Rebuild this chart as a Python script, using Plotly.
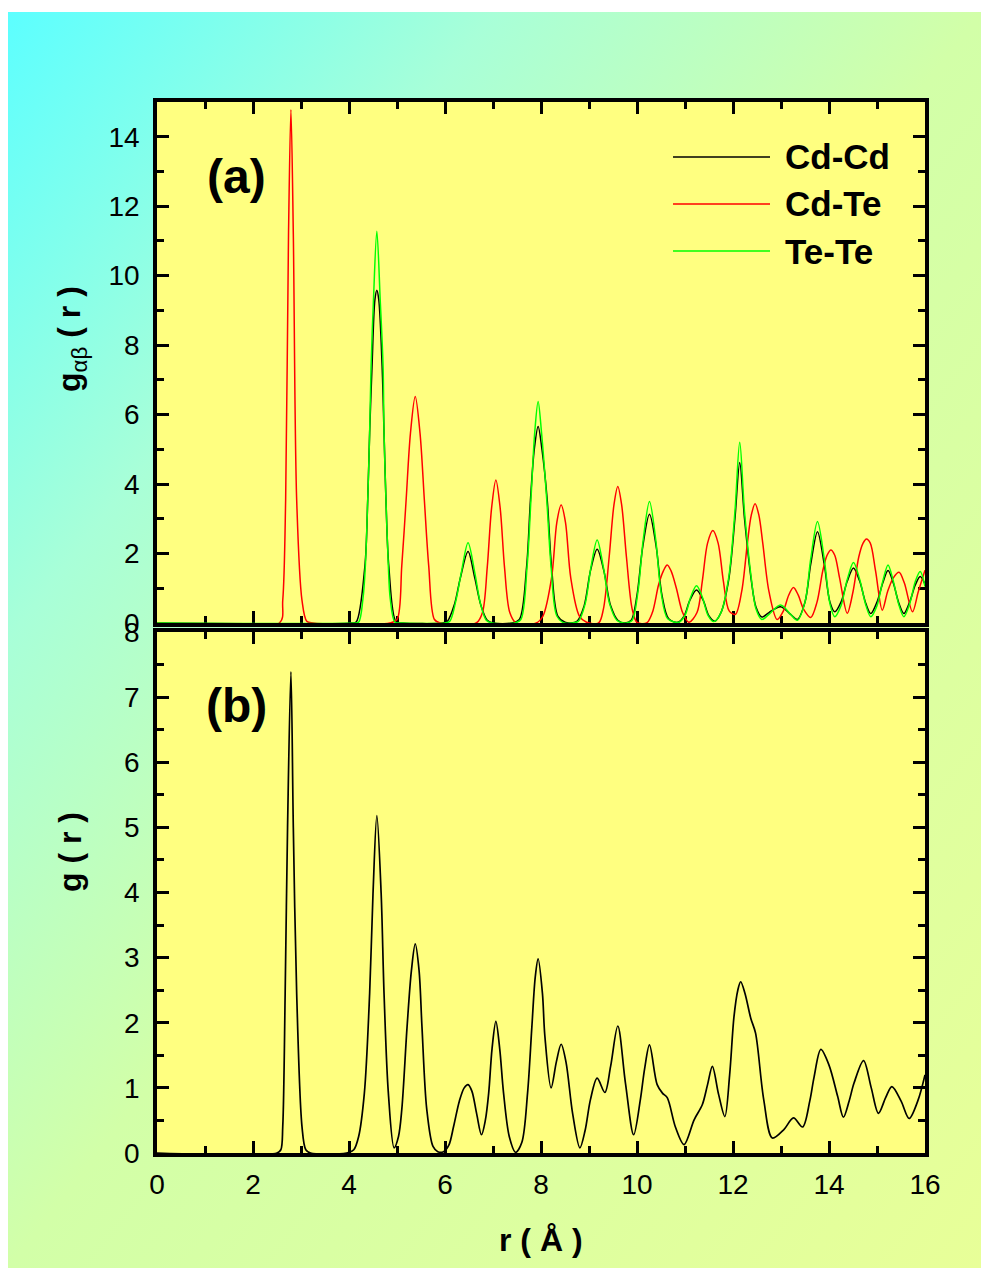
import base64
import plotly.graph_objects as go

# ---------------- data ----------------
# Panel (a): partial pair distribution functions
r_cdcd = [0, 4.05, 4.15, 4.33, 4.39, 4.43, 4.48, 4.54, 4.58, 4.62, 4.69, 4.73, 4.77, 4.83, 4.98, 5.10,
          5.95, 6.05, 6.20, 6.32, 6.48, 6.62, 6.75, 6.88, 7.00,
          7.40, 7.55, 7.70, 7.78, 7.86, 7.94, 8.02, 8.13, 8.22, 8.35, 8.50,
          8.62, 8.75, 8.90, 9.03, 9.17, 9.31, 9.45, 9.60, 9.75,
          9.88, 10.00, 10.12, 10.26, 10.40, 10.52, 10.66, 10.85,
          10.98, 11.10, 11.24, 11.38, 11.50, 11.62,
          11.75, 11.91, 12.04, 12.14, 12.24, 12.38, 12.48, 12.60,
          12.75, 12.99, 13.20, 13.34,
          13.50, 13.62, 13.76, 13.90, 14.02, 14.12,
          14.25, 14.38, 14.51, 14.64, 14.77, 14.87,
          15.00, 15.12, 15.23, 15.34, 15.46, 15.56,
          15.68, 15.80, 15.90, 16.00]
g_cdcd = [0, 0, 0.03, 1.62, 3.54, 5.47, 7.39, 9.31, 9.58, 9.31, 7.39, 5.47, 3.54, 1.62, 0.03, 0,
          0, 0.05, 0.55, 1.30, 2.06, 1.30, 0.50, 0.08, 0,
          0, 0.10, 1.62, 3.54, 5.00, 5.66, 5.00, 3.54, 1.62, 0.20, 0.02,
          0, 0.05, 0.50, 1.50, 2.12, 1.50, 0.50, 0.08, 0,
          0.08, 0.80, 2.20, 3.13, 2.20, 0.80, 0.12, 0.02,
          0.20, 0.65, 0.95, 0.65, 0.20, 0.05,
          0.30, 1.24, 3.00, 4.62, 3.00, 1.24, 0.45, 0.17,
          0.30, 0.47, 0.25, 0.10,
          0.60, 1.70, 2.63, 1.70, 0.60, 0.32,
          0.60, 1.20, 1.58, 1.20, 0.55, 0.27,
          0.60, 1.15, 1.51, 1.15, 0.55, 0.27,
          0.60, 1.10, 1.34, 1.12]

r_cdte = [0, 2.55, 2.62, 2.68, 2.74, 2.79, 2.84, 2.91, 3.02, 3.12, 3.25,
          4.85, 5.00, 5.10, 5.19, 5.28, 5.38, 5.48, 5.57, 5.66, 5.78, 5.90,
          6.65, 6.78, 6.88, 6.97, 7.06, 7.15, 7.24, 7.35, 7.48,
          7.90, 8.04, 8.22, 8.33, 8.42, 8.51, 8.62, 8.80, 8.95,
          9.20, 9.30, 9.42, 9.52, 9.60, 9.68, 9.78, 9.90, 10.00,
          10.20, 10.32, 10.45, 10.55, 10.63, 10.71, 10.82, 10.95, 11.08,
          11.25, 11.36, 11.47, 11.58, 11.69, 11.80, 11.92,
          12.05, 12.18, 12.30, 12.38, 12.46, 12.54, 12.62, 12.75, 12.92,
          13.05, 13.16, 13.26, 13.36, 13.47, 13.62,
          13.75, 13.87, 13.96, 14.04, 14.12, 14.22, 14.38,
          14.50, 14.62, 14.71, 14.78, 14.86, 14.97, 15.11,
          15.22, 15.34, 15.46, 15.57, 15.74,
          15.86, 16.00]
g_cdte = [0, 0, 0.66, 3.54, 11.2, 14.78, 11.2, 3.54, 0.66, 0.05, 0,
          0, 0.10, 1.66, 3.54, 5.46, 6.52, 5.46, 3.54, 1.66, 0.10, 0,
          0, 0.30, 1.60, 3.30, 4.12, 3.30, 1.60, 0.30, 0,
          0, 0.20, 1.30, 2.90, 3.40, 2.90, 1.30, 0.20, 0.02,
          0, 0.40, 1.90, 3.40, 3.93, 3.40, 1.90, 0.40, 0.02,
          0, 0.30, 1.10, 1.50, 1.67, 1.50, 1.00, 0.30, 0.02,
          0.30, 1.20, 2.30, 2.66, 2.30, 1.20, 0.35,
          0.25, 0.90, 2.30, 3.10, 3.43, 3.10, 2.30, 0.90, 0.10,
          0.35, 0.80, 1.02, 0.80, 0.40, 0.16,
          0.60, 1.50, 1.95, 2.10, 1.95, 1.30, 0.28,
          0.90, 1.90, 2.30, 2.42, 2.30, 1.50, 0.37,
          0.90, 1.30, 1.46, 1.15, 0.32,
          0.90, 1.52]

r_tete = [0, 4.10, 4.20, 4.29, 4.34, 4.39, 4.43, 4.46, 4.51, 4.58, 4.65, 4.71, 4.73, 4.77, 4.82, 4.86, 4.96, 5.10,
          6.00, 6.10, 6.22, 6.34, 6.48, 6.62, 6.74, 6.86, 6.98,
          7.45, 7.58, 7.71, 7.79, 7.87, 7.94, 8.01, 8.12, 8.21, 8.33, 8.48,
          8.65, 8.78, 8.92, 9.04, 9.17, 9.30, 9.43, 9.58, 9.72,
          9.78, 9.90, 10.02, 10.13, 10.26, 10.39, 10.50, 10.64, 10.87,
          11.00, 11.12, 11.24, 11.36, 11.48, 11.60,
          11.75, 11.91, 12.04, 12.14, 12.24, 12.38, 12.48, 12.60,
          12.75, 12.99, 13.20, 13.34,
          13.50, 13.62, 13.76, 13.90, 14.02, 14.12,
          14.25, 14.38, 14.51, 14.64, 14.77, 14.87,
          15.00, 15.12, 15.23, 15.34, 15.46, 15.56,
          15.68, 15.80, 15.90, 16.00]
g_tete = [0, 0, 0.02, 0.69, 1.62, 3.54, 5.47, 7.39, 9.31, 11.28, 9.31, 7.39, 5.47, 3.54, 1.62, 0.69, 0.02, 0,
          0, 0.05, 0.60, 1.45, 2.31, 1.45, 0.55, 0.08, 0,
          0, 0.10, 1.62, 3.54, 5.50, 6.38, 5.50, 3.54, 1.62, 0.20, 0,
          0, 0.05, 0.55, 1.60, 2.39, 1.60, 0.55, 0.08, 0,
          0, 0.08, 0.90, 2.40, 3.50, 2.40, 0.90, 0.12, 0.02,
          0.22, 0.75, 1.07, 0.75, 0.22, 0.04,
          0.30, 1.30, 3.20, 5.20, 3.20, 1.30, 0.40, 0.10,
          0.25, 0.52, 0.25, 0.08,
          0.60, 1.85, 2.92, 1.85, 0.55, 0.18,
          0.50, 1.25, 1.74, 1.25, 0.50, 0.18,
          0.50, 1.20, 1.67, 1.20, 0.50, 0.18,
          0.55, 1.20, 1.48, 1.05]

# Panel (b): total pair distribution function
r_tot = [0, 2.50, 2.58, 2.62, 2.67, 2.72, 2.79, 2.84, 2.91, 3.02, 3.10, 3.20,
         3.95, 4.10, 4.20, 4.32, 4.43, 4.50, 4.58, 4.67, 4.73, 4.82, 4.94,
         5.03, 5.10, 5.21, 5.30, 5.38, 5.46, 5.52, 5.62, 5.75, 5.85, 5.97,
         6.08, 6.18, 6.30, 6.40, 6.48, 6.56, 6.66, 6.76,
         6.84, 6.91, 6.98, 7.06, 7.14, 7.22, 7.34, 7.47,
         7.60, 7.72, 7.81, 7.88, 7.94, 8.03, 8.08, 8.21,
         8.32, 8.42, 8.52, 8.66, 8.81,
         8.92, 9.03, 9.17, 9.33,
         9.45, 9.60, 9.76, 9.93,
         10.07, 10.16, 10.26, 10.42, 10.53, 10.63, 10.80, 10.98,
         11.19, 11.36, 11.47, 11.57, 11.70, 11.83,
         11.93, 12.02, 12.10, 12.16, 12.25, 12.37, 12.47, 12.64, 12.82,
         13.06, 13.26, 13.45,
         13.60, 13.69, 13.83, 14.00, 14.18, 14.30,
         14.42, 14.52, 14.72, 14.88, 15.03,
         15.18, 15.31, 15.50, 15.67,
         15.85, 16.00]
g_tot = [0, 0, 0.05, 0.41, 2.45, 5.00, 7.39, 5.00, 2.45, 0.41, 0.05, 0,
         0, 0.05, 0.25, 0.92, 2.45, 3.98, 5.18, 3.98, 2.45, 0.92, 0.08,
         0.25, 0.67, 1.94, 2.80, 3.21, 2.80, 1.94, 0.67, 0.10, 0.02, 0.02,
         0.12, 0.41, 0.80, 1.00, 1.05, 0.95, 0.60, 0.28,
         0.50, 0.92, 1.60, 2.02, 1.60, 0.92, 0.25, 0.01,
         0.16, 0.92, 1.94, 2.70, 2.98, 2.45, 1.80, 1.00,
         1.40, 1.67, 1.40, 0.60, 0.08,
         0.35, 0.82, 1.15, 0.93,
         1.33, 1.95, 1.07, 0.28,
         0.82, 1.30, 1.66, 1.05, 0.92, 0.85, 0.40, 0.13,
         0.51, 0.74, 1.05, 1.33, 0.90, 0.56,
         1.20, 2.09, 2.50, 2.63, 2.45, 2.07, 1.84, 0.82, 0.23,
         0.36, 0.54, 0.40,
         0.80, 1.17, 1.59, 1.35, 0.87, 0.55,
         0.80, 1.07, 1.42, 1.00, 0.61,
         0.85, 1.02, 0.80, 0.53,
         0.80, 1.20]

series_names = ["Cd-Cd", "Cd-Te", "Te-Te"]
series_colors = ["#000000", "#FF0000", "#00FF00"]
x_ticks = [0, 2, 4, 6, 8, 10, 12, 14, 16]

# ---------------- figure ----------------
FONT = "Arial, Liberation Sans, sans-serif"
YELLOW = "#FFFF80"
fig = go.Figure()

partials = [(r_cdcd, g_cdcd), (r_cdte, g_cdte), (r_tete, g_tete)]
for (rr, gg), name, col in zip(partials, series_names, series_colors):
    fig.add_trace(go.Scatter(x=rr, y=gg, mode="lines", name=name,
                             line=dict(color=col, width=1.5, shape="spline", smoothing=0.9),
                             xaxis="x2", yaxis="y2", showlegend=False))

fig.add_trace(go.Scatter(x=r_tot, y=g_tot, mode="lines", name="g(r)",
                         line=dict(color="#000000", width=1.7, shape="spline", smoothing=0.9),
                         xaxis="x", yaxis="y", showlegend=False))

axis_common = dict(showline=True, linewidth=3.5, linecolor="black", mirror="allticks",
                   ticks="inside", ticklen=12, tickwidth=3, tickcolor="black",
                   showgrid=False, zeroline=False, layer="below traces",
                   tickfont=dict(family=FONT, size=28, color="black"))
minor_common = dict(ticklen=7, tickwidth=2.5, tickcolor="black", ticks="inside")

fig.update_layout(
    width=981, height=1274,
    margin=dict(l=157, r=56, t=102, b=121),
    paper_bgcolor="white",
    plot_bgcolor="rgba(0,0,0,0)",
    font=dict(family=FONT, color="black"),
    xaxis=dict(domain=[0, 1], anchor="y", range=[0, 16], tickvals=x_ticks,
               minor=dict(dtick=1, **minor_common), ticklabelstandoff=4, **axis_common),
    yaxis=dict(domain=[0, 0.4957], anchor="x", range=[0, 8], dtick=1,
               minor=dict(dtick=0.5, **minor_common), ticklabelstandoff=8, **axis_common),
    xaxis2=dict(domain=[0, 1], anchor="y2", range=[0, 16], tickvals=x_ticks, matches="x",
                showticklabels=False, minor=dict(dtick=1, **minor_common), **axis_common),
    yaxis2=dict(domain=[0.5043, 1], anchor="x2", range=[0, 15], dtick=2,
                minor=dict(dtick=1, **minor_common), ticklabelstandoff=8, **axis_common),
)

# gradient page background
svg = ('<svg xmlns="http://www.w3.org/2000/svg" width="200" height="260" viewBox="0 0 200 260" '
       'preserveAspectRatio="none"><defs><linearGradient id="g" x1="0" y1="0" x2="1" y2="1">'
       '<stop offset="0" stop-color="#5CFFFF"/><stop offset="0.25" stop-color="#A8FFD8"/>'
       '<stop offset="0.5" stop-color="#D2FFA8"/><stop offset="1" stop-color="#E8FF98"/>'
       '</linearGradient></defs><rect width="200" height="260" fill="url(#g)"/></svg>')
src = "data:image/svg+xml;base64," + base64.b64encode(svg.encode()).decode()
fig.add_layout_image(dict(source=src, xref="paper", yref="paper",
                          x=(8 - 157) / 768, y=(1153 - 12) / 1051,
                          sizex=(981 - 8) / 768, sizey=(1268 - 12) / 1051,
                          sizing="stretch", xanchor="left", yanchor="top", layer="below"))

# yellow plot areas
for xr, yr in [("x domain", "y domain"), ("x2 domain", "y2 domain")]:
    fig.add_shape(type="rect", xref=xr, yref=yr, x0=0, x1=1, y0=0, y1=1,
                  fillcolor=YELLOW, line=dict(width=0), layer="below")

# legend drawn by hand (long line samples as in the original)
leg_y = [0.9477, 0.9030, 0.8582]
for name, col, yy in zip(series_names, series_colors, leg_y):
    fig.add_shape(type="line", xref="paper", yref="paper", x0=0.6719, x1=0.7982, y0=yy, y1=yy,
                  line=dict(color=col, width=1.5))
    fig.add_annotation(text="<b>%s</b>" % name, xref="paper", yref="paper", x=0.8151, y=yy,
                       xanchor="left", yanchor="middle", showarrow=False,
                       font=dict(family=FONT, size=35, color="black"))

# panel labels and axis titles
def label(text, px, py, size, angle=0):
    fig.add_annotation(text=text, xref="paper", yref="paper",
                       x=(px - 157) / 768, y=(1153 - py) / 1051,
                       xanchor="center", yanchor="middle", textangle=angle, showarrow=False,
                       font=dict(family=FONT, size=size, color="black"))

label("<b>(a)</b>", 236, 176, 48)
label("<b>(b)</b>", 236, 706, 48)
label("<b>g</b><sub>αβ</sub><b> ( r )</b>", 72, 339, 32, -90)
label("<b>g ( r )</b>", 70, 852, 32, -90)
label("<b>r ( Å )</b>", 541, 1240, 32)

fig.write_html("out.html")
